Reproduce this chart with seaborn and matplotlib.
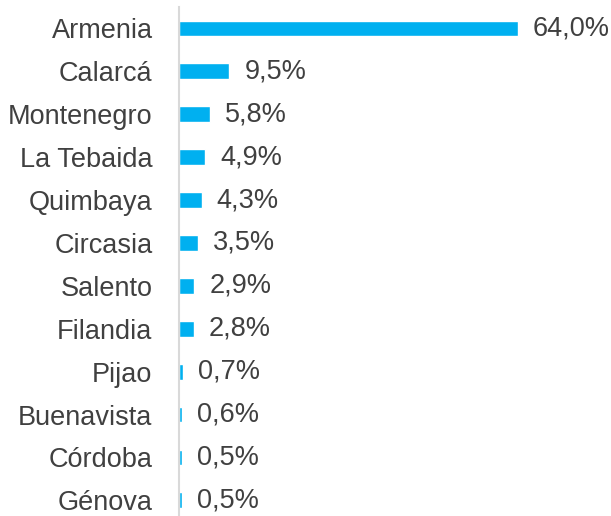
import matplotlib
matplotlib.use("Agg")
import matplotlib.pyplot as plt
import seaborn as sns
import pandas as pd

municipios = ["Armenia", "Calarcá", "Montenegro", "La Tebaida", "Quimbaya", "Circasia",
              "Salento", "Filandia", "Pijao", "Buenavista", "Córdoba", "Génova"]
porcentajes = [64.0, 9.5, 5.8, 4.9, 4.3, 3.5, 2.9, 2.8, 0.7, 0.6, 0.5, 0.5]

df = pd.DataFrame({"municipio": municipios, "pct": porcentajes})

sns.set_style("white")
plt.rcParams['font.family'] = ['Liberation Sans', 'DejaVu Sans']

W, H = 611, 516
fig = plt.figure(figsize=(W / 100, H / 100), dpi=100)
# axes spans from x=179 px, top at y=7 px, rows 42.9 px apart
ax_left = 179 / W
ax_width = (611 - 179) / W
row = 42.9
ax_top = 1 - 7 / H
ax_height = 12 * row / H
ax = fig.add_axes([ax_left, ax_top - ax_height, ax_width, ax_height])

sns.barplot(data=df, x="pct", y="municipio", color="#00B0F0", saturation=1,
            width=0.37, ax=ax, orient="h")

xmax = 64.0 * (611 - 179) / (518 - 179)
ax.set_xlim(0, xmax)
ax.set_ylim(len(municipios) - 0.5, -0.5)

for i, v in enumerate(porcentajes):
    ax.annotate(f"{v:.1f}%".replace(".", ","), xy=(v, i), xytext=(15, 0),
                textcoords="offset pixels", va="center", ha="left",
                fontsize=19.5, color="#404040")

ax.set_xlabel("")
ax.set_ylabel("")
ax.set_xticks([])
ax.tick_params(axis="y", length=0, pad=19, labelsize=19.5, labelcolor="#404040")
for s in ["top", "right", "bottom"]:
    ax.spines[s].set_visible(False)
ax.spines["left"].set_color("#D9D9D9")
ax.spines["left"].set_linewidth(1.5)

fig.savefig("out.png", dpi=100)
